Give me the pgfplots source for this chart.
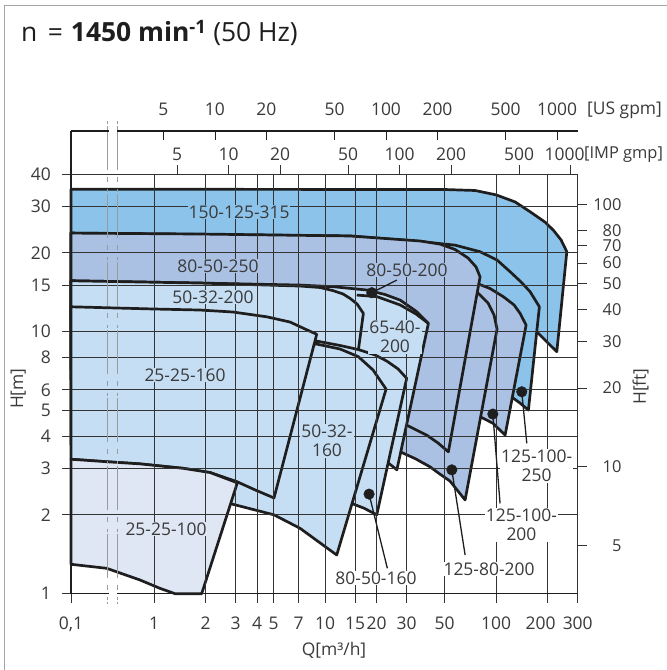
\documentclass[border=0pt]{standalone}
\usepackage{fontspec}
\setmainfont{Open Sans}
\usepackage{pgfplots}
\pgfplotsset{compat=1.18}

\definecolor{medblue}{HTML}{8CC3EA}
\definecolor{lavblue}{HTML}{AAC1E3}
\definecolor{ltblue}{HTML}{C6DEF3}
\definecolor{palblue}{HTML}{DFE6F4}
\definecolor{gridgray}{HTML}{333333}
\definecolor{brkgray}{HTML}{9A9A9A}
\definecolor{outl}{HTML}{1E1E1E}
\definecolor{txt}{HTML}{3A3A3A}

\newcommand\fs{\fontsize{17.5}{19}\selectfont}

% Q is plotted at log10(Q); the decade 0.1..1 is shortened to 0.4854 (broken axis)
\pgfplotsset{
  env/.style={draw=outl, line width=2.7bp, line join=round, fill=#1},
  lead/.style={draw=outl, line width=1.3bp, mark=none},
}
\tikzset{lbl/.style={font=\fs, text=txt, fill=#1, inner sep=1bp, align=center}}

\begin{document}
\begin{tikzpicture}
\path[use as bounding box] (-71bp,-76.3bp) rectangle (596bp,593.7bp);

% ---------- envelopes ----------
\begin{axis}[at={(0,0)}, anchor=south west, scale only axis,
  width=506.7bp, height=419.7bp, ymode=log,
  xmin=-0.4854, xmax=2.47712, ymin=1, ymax=40,
  x filter/.code={\pgfmathparse{#1<1 ? 0.2108*ln(#1) : 0.4342945*ln(#1)}},
  hide axis, clip=false]
% 150-125-315
\addplot[env=medblue] coordinates {(0.1,35.0) (50.3,34.9) (75.4,34.6) (100,33.3) (129.1,31.3) (158.1,28.7) (193.4,26.2) (216.3,24.4) (240,22.4) (259.1,20.2) (226.5,8.39) (196.1,9.21) (173,10.0) (120.8,11.08) (0.1,11.08)} -- cycle;
% 125-100-250
\addplot[env=medblue] coordinates {(0.1,23.8) (14.0,23.2) (35.9,22.1) (57.6,21.4) (80.6,20.2) (101.3,18.78) (120.8,16.94) (140,15.48) (158.1,14.21) (179.1,12.45) (154.5,5.02) (138.1,5.34) (126.3,5.57) (105.5,6.54) (61.6,10.15) (0.1,10.15)} -- cycle;
% 125-100-200
\addplot[env=lavblue] coordinates {(47.0,17.2) (77.1,15.30) (92.2,14.62) (110.3,13.60) (127.4,12.65) (138.1,11.75) (149.8,10.6) (112.9,4.03) (96.0,4.47) (80.6,4.74) (61.6,5.49) (47.0,10.15)} -- cycle;
% 125-80-200
\addplot[env=lavblue] coordinates {(47.0,15.75) (78.8,14.0) (89.8,12.87) (97.3,11.58) (101.3,10.24) (65.9,2.28) (53.8,2.69) (47.0,2.86) (41.1,3.05) (33.6,3.28) (27.5,3.48) (21.0,3.86) (22.4,11.08)} -- cycle;
% 80-50-250
\addplot[env=lavblue] coordinates {(0.1,23.8) (1.858,23.6) (14.0,23.2) (35.9,22.2) (47.0,21.6) (57.6,20.6) (68.6,19.11) (76.4,17.66) (80.6,16.2) (52.6,3.48) (45.8,3.76) (39.3,4.03) (30.0,4.40) (24.0,4.81) (0.1,6.54)} -- cycle;
% 65-40-200
\addplot[env=ltblue] coordinates {(0.1,15.65) (1.858,15.34) (7.14,15.07) (11.18,14.85) (17.53,14.43) (22.4,13.87) (27.5,13.2) (34.4,11.92) (40.2,10.76) (26.3,2.97) (23.5,3.15) (18.3,3.47) (0.1,3.70)} -- cycle;
% 50-32-200
\addplot[env=ltblue] coordinates {(0.1,15.65) (1.858,15.34) (7.14,14.94) (9.35,14.75) (11.18,14.34) (12.74,13.93) (14.0,13.41) (15.39,12.76) (16.75,11.75) (15.66,8.51) (14.97,7.14) (0.1,7.14)} -- cycle;
% 80-50-160
\addplot[env=ltblue] coordinates {(8.94,9.21) (12.24,8.86) (15.66,8.55) (19.61,8.15) (22.95,7.73) (26.73,7.21) (30.0,6.64) (20.06,2.0) (16.91,2.12) (14.33,2.21) (10.7,2.49) (8.17,5.49)} -- cycle;
% 50-32-160
\addplot[env=ltblue] coordinates {(7.14,8.9) (8.94,8.97) (12.24,8.59) (15.66,8.03) (19.09,7.14) (22.74,6.04) (11.7,1.405) (7.14,1.777) (5.03,2.0) (2.85,2.20) (1.858,2.38) (3.64,5.49)} -- cycle;
% 25-25-160
\addplot[env=ltblue] coordinates {(0.1,12.45) (1.0,12.21) (1.858,12.1) (2.90,11.89) (4.56,11.4) (6.24,10.89) (7.64,10.24) (8.94,9.78) (5.03,2.32) (3.90,2.49) (3.04,2.68) (2.13,2.90) (1.483,3.01) (0.678,3.13) (0.269,3.19) (0.1,3.26)} -- cycle;
% 25-25-100
\addplot[env=palblue] coordinates {(0.1,3.26) (0.269,3.19) (0.678,3.13) (1.483,3.01) (2.13,2.90) (3.07,2.65) (1.90,1.0) (1.327,1.0) (1.084,1.048) (0.678,1.128) (0.269,1.25) (0.1,1.295)} -- cycle;
% 80-50-200 inner boundary
\addplot[draw=outl, line width=2.7bp, line join=round] coordinates {(15.32,13.8) (20.06,13.62) (27.5,12.65) (34.06,11.68) (40.2,10.76)};
\end{axis}

% ---------- grid, H[m] and Q[m3/h] scales, labels ----------
\begin{axis}[at={(0,0)}, anchor=south west, scale only axis,
  width=506.7bp, height=419.7bp, ymode=log,
  xmin=-0.4854, xmax=2.47712, ymin=1, ymax=40,
  x filter/.code={\pgfmathparse{#1<1 ? 0.2108*ln(#1) : 0.4342945*ln(#1)}},
  clip=false,
  axis lines*=left,
  axis line style={draw=outl, line width=1.2bp},
  xtick={-0.4854,0,0.30103,0.47712,0.60206,0.69897,0.84510,1,1.17609,1.30103,1.47712,1.69897,2,2.30103,2.47712},
  xticklabels={{0,1},1,2,3,4,5,7,10,15,20,30,50,100,{200\hspace*{14bp}},300},
  ytick={1,2,3,4,5,6,8,10,15,20,30,40},
  yticklabels={1,2,3,4,5,6,8,10,15,20,30,40},
  yminorticks=false,
  grid=major, major grid style={draw=gridgray, line width=0.9bp},
  tick align=outside, major tick length=9bp,
  major tick style={draw=gridgray, line width=0.9bp},
  every tick label/.append style={font=\fs, text=txt, inner sep=0pt},
  xticklabel style={yshift=-14bp},
  yticklabel style={xshift=-11bp},
]
% axis break
\draw[white, line width=3bp] (rel axis cs:0.0744,0) -- (rel axis cs:0.0902,0);
\draw[white, line width=3bp] (rel axis cs:0.0744,1) -- (rel axis cs:0.0902,1);
\draw[brkgray, line width=1bp, dash pattern=on 3bp off 2bp on 44bp off 7bp on 5bp off 7bp]
  (rel axis cs:0.0724,1.1269) -- (rel axis cs:0.0724,-0.0238);
\draw[brkgray, line width=1bp, dash pattern=on 3bp off 2bp on 44bp off 7bp on 5bp off 7bp]
  (rel axis cs:0.0922,1.1269) -- (rel axis cs:0.0922,-0.0238);
% leader lines
\addplot[lead] coordinates {(18.76,14.09) (26.3,15.75)};
\addplot[lead] coordinates {(18.09,2.40) (23.13,1.25)};
\addplot[lead] coordinates {(55.1,2.97) (65.9,1.405)};
\addplot[lead] coordinates {(95.7,4.85) (105.5,2.21)};
\addplot[lead] coordinates {(141.3,5.9) (151.2,3.75)};
% marked operating points
\addplot[only marks, mark=*, mark size=5.3bp, mark options={fill=outl, draw=outl}]
  coordinates {(18.76,14.09) (18.09,2.40) (55.1,2.97) (95.7,4.85) (141.3,5.9)};
% pump labels
\node[lbl=medblue] at (rel axis cs:0.3316,0.9095) {150-125-315};
\node[lbl=lavblue] at (rel axis cs:0.2901,0.7808) {80-50-250};
\node[lbl=ltblue]  at (rel axis cs:0.2802,0.7069) {50-32-200};
\node[lbl=ltblue]  at (rel axis cs:0.2250,0.5211) {25-25-160};
\node[lbl=palblue] at (rel axis cs:0.1875,0.1542) {25-25-100};
\node[lbl=ltblue]  at (rel axis cs:0.5052,0.3638) {50-32-\\160};
\node[lbl=ltblue]  at (rel axis cs:0.6394,0.6116) {65-40-\\200};
\node[lbl=lavblue] at (rel axis cs:0.6631,0.7713) {80-50-200};
\node[lbl=white]   at (rel axis cs:0.6019,0.0374) {80-50-160};
\node[lbl=white]   at (rel axis cs:0.8250,0.0589) {125-80-200};
\node[lbl=white]   at (rel axis cs:0.8890,0.1637) {125-100-\\200};
\node[lbl=white]   at (rel axis cs:0.9190,0.3043) {125-100-\\250};
\end{axis}

% ---------- H[ft] on the right, IMP gpm on top ----------
\begin{axis}[at={(0,0)}, anchor=south west, scale only axis,
  width=506.7bp, height=419.7bp, ymode=log,
  xmin=-0.4854, xmax=2.47712, ymin=3.28084, ymax=131.2336,
  axis x line*=top, axis y line*=right,
  axis line style={draw=gridgray, line width=0.9bp},
  xtick={0.13475,0.43580,0.73682,1.13475,1.43580,1.73682,2.13475,2.43580},
  xticklabels={5,10,20,50,100,200,500,{1000\hspace*{12bp}}},
  ytick={5,10,20,30,40,50,60,70,80,100},
  yticklabels={5,10,20,30,40,50,60,70,80,100},
  yminorticks=false,
  tick align=outside, major tick length=9bp,
  major tick style={draw=gridgray, line width=0.9bp},
  every tick label/.append style={font=\fs, text=txt, inner sep=0pt},
  xticklabel style={yshift=3.8bp},
  yticklabel style={anchor=east, xshift=35bp, font=\fontsize{16.5}{18}\selectfont},
]
\end{axis}

% ---------- US gpm on top ----------
\begin{axis}[at={(0,419.7bp)}, anchor=south west, scale only axis,
  width=506.7bp, height=43bp,
  xmin=-0.4854, xmax=2.47712, ymin=0, ymax=1,
  axis x line*=top, axis y line*=left,
  axis line style={draw=outl, line width=1.2bp},
  xtick={0.05522,0.35626,0.65730,1.05522,1.35626,1.65730,2.05522,2.35626},
  xticklabels={5,10,20,50,100,200,500,1000},
  ytick=\empty,
  tick align=inside, major tick length=9bp,
  major tick style={draw=outl, line width=0.9bp},
  every tick label/.append style={font=\fs, text=txt, inner sep=0pt},
  xticklabel style={yshift=14.8bp},
]
\draw[white, line width=3bp] (rel axis cs:0.0744,1) -- (rel axis cs:0.0902,1);
\end{axis}

% ---------- texts and frame ----------
\node[anchor=west, inner sep=0pt, font=\fs, text=txt] at (516bp,483.7bp) {[US gpm]};
\node[anchor=west, inner sep=0pt, font=\fontsize{16.5}{19}\selectfont, text=txt] at (513bp,438.7bp) {[IMP gmp]};
\node[font=\fs, text=txt] at (263bp,-56.3bp) {Q[m³/h]};
\node[font=\fs, text=txt, rotate=90] at (-52.7bp,205bp) {H[m]};
\node[font=\fs, text=txt, rotate=90] at (569.5bp,207.2bp) {H[ft]};
\node[anchor=west, inner sep=0pt, font=\fontsize{26.5}{30}\selectfont, text=outl]
  at (-50bp,560.7bp) {n\hspace{0.4em}=\hspace{0.3em}\textbf{1450 min\textsuperscript{-1}} (50 Hz)};
\draw[gray!70, line width=1bp] (-66.7bp,-76.3bp) -- (-66.7bp,587.7bp) -- (596bp,587.7bp);
\end{tikzpicture}
\end{document}
